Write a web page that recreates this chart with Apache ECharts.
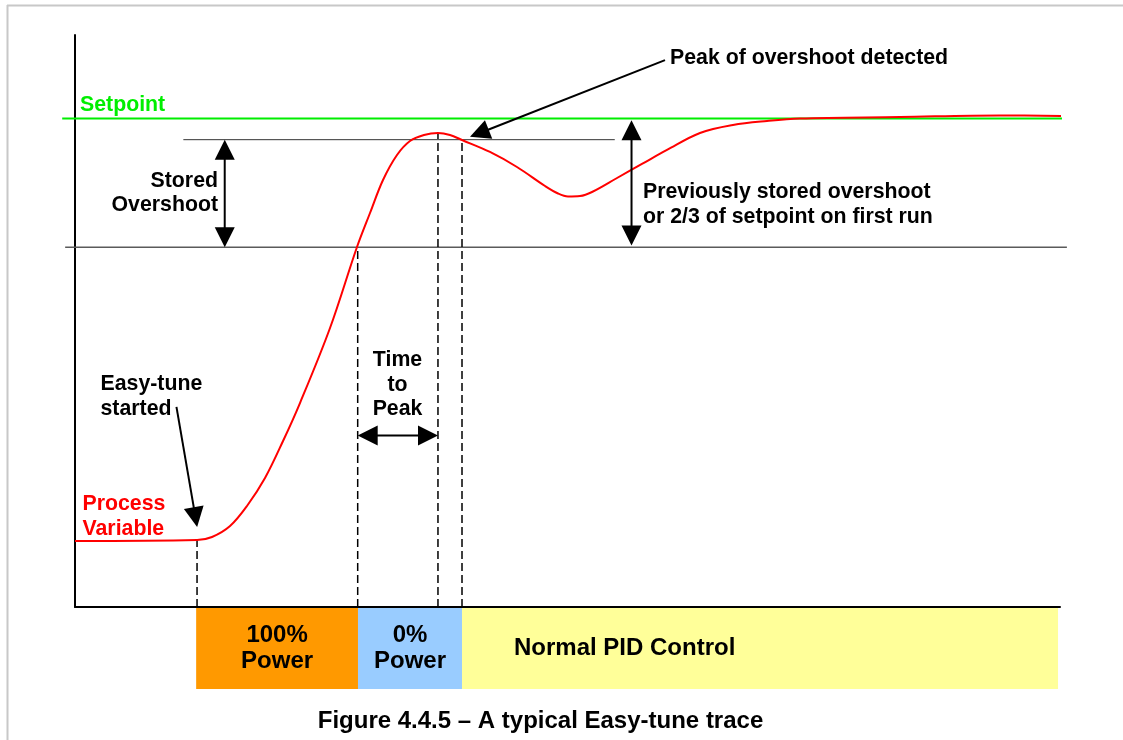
<!DOCTYPE html>
<html>
<head>
<meta charset="utf-8">
<script src="https://cdn.jsdelivr.net/npm/echarts@6/dist/echarts.min.js"></script>
<style>
  html, body { margin: 0; padding: 0; background: #fff; }
  #chart { width: 1123px; height: 740px; }
</style>
</head>
<body>
<div id="chart"></div>
<script>
// ---------------------------------------------------------------------------
// Easy-tune trace
// time: 0..100 across the plot, level: 0..100 up the plot
// ---------------------------------------------------------------------------

// Process variable (red trace)
const pvTime = [0, 12.39, 13.91, 15.74, 17.46, 19.29, 21.12, 22.84, 25.89, 28.63, 29.95, 31.27,
  32.69, 34.01, 35.43, 36.85, 38.07, 39.29, 42.13, 44.87, 47.72, 49.04, 50.05, 51.27, 52.49,
  55.03, 57.56, 60.10, 63.45, 66.80, 70.25, 73.60, 83.76, 93.91, 100.2]
const pvLevel = [11.54, 11.71, 12.24, 14.16, 17.66, 22.55, 29.02, 35.66, 48.78, 62.94, 68.88, 74.65,
  79.02, 81.47, 82.52, 82.87, 82.52, 81.64, 79.55, 76.92, 73.60, 72.29, 71.77, 71.85, 72.55,
  75.00, 77.45, 79.90, 82.87, 84.27, 84.97, 85.40, 85.66, 85.93, 85.84]

// Reference levels
const setpoint = 85.4
const thresholdLevel = 62.9      // setpoint minus stored overshoot
const storedPeakLevel = 81.7     // level where overshoot peak is detected

// Horizontal line extents (time)
const setpointSpan = [-1.3, 100.2]
const thresholdSpan = [-1.0, 100.7]
const storedPeakSpan = [11.0, 54.8]

// Events: tune start, threshold crossing, peak, peak detected
const eventTimes = [12.39, 28.7, 36.85, 39.29]
const eventLevels = [11.71, 62.94, 82.87, 81.64]

// Output phases shown under the time axis
const phaseNames = ['100%\nPower', '0%\nPower', 'Normal PID Control']
const phaseStart = [12.3, 28.73, 39.29]
const phaseEnd = [28.73, 39.29, 99.8]

// Arrows: [fromTime, fromLevel, toTime, toLevel, heads]
const storedOvershootArrow = [15.2, thresholdLevel, 15.2, storedPeakLevel, 2]
const previousOvershootArrow = [56.5, 63.2, 56.5, 85.1, 2]
const timeToPeakArrow = [28.7, 30.0, 36.85, 30.0, 2]
const tuneStartArrow = [10.3, 35.0, 12.4, 14.0, 1]
const peakDetectArrow = [59.9, 95.6, 40.1, 82.2, 1]

// ---------------------------------------------------------------------------
// Styles
// ---------------------------------------------------------------------------
const FONT = '"Liberation Sans", Arial, Helvetica, sans-serif'
const LABEL_SIZE = 21.3
const BIG_SIZE = 24
const PHASE_COLORS = ['#ff9900', '#99ccff', '#ffff99']
const RED = '#ff0000'
const GREEN = '#00ee00'

// straight segments [t1, v1, t2, v2] drawn through the axes, not clipped to the grid
function segments(items, lineStyle, z) {
  return {
    type: 'custom',
    xAxisIndex: 0, yAxisIndex: 0,
    encode: { x: [0, 2], y: [1, 3] },
    data: items,
    silent: true,
    z,
    renderItem(params, api) {
      const a = api.coord([api.value(0), api.value(1)])
      const b = api.coord([api.value(2), api.value(3)])
      return {
        type: 'line',
        shape: { x1: a[0], y1: a[1], x2: b[0], y2: b[1] },
        style: Object.assign({ fill: null }, lineStyle),
      }
    },
  }
}

function text(str, x, y, opt = {}) {
  return {
    type: 'text',
    z: 100,
    style: {
      text: str,
      x, y,
      font: `bold ${opt.size || LABEL_SIZE}px ${FONT}`,
      fill: opt.color || '#000',
      align: opt.align || 'left',
      textAlign: opt.align || 'left',
      verticalAlign: 'middle',
      textVerticalAlign: 'middle',
      lineHeight: opt.lh || 24.5,
    },
  }
}

const chart = echarts.init(document.getElementById('chart'), null, { renderer: 'canvas' })

chart.setOption({
  animation: false,
  backgroundColor: '#fff',
  grid: [
    { left: 75, right: 63, top: 35, bottom: 133 },
    { left: 75, right: 63, top: 608, height: 81 },
  ],
  xAxis: [
    {
      type: 'value', min: 0, max: 100, gridIndex: 0,
      axisLine: { show: true, lineStyle: { color: '#000', width: 2 } },
      axisTick: { show: false }, axisLabel: { show: false }, splitLine: { show: false },
    },
    { type: 'value', min: 0, max: 100, gridIndex: 1, show: false },
  ],
  yAxis: [
    {
      type: 'value', min: 0, max: 100, gridIndex: 0,
      axisLine: { show: true, lineStyle: { color: '#000', width: 2 } },
      axisTick: { show: false }, axisLabel: { show: false }, splitLine: { show: false },
    },
    { type: 'value', min: 0, max: 1, gridIndex: 1, show: false },
  ],
  series: [
    segments([[thresholdSpan[0], thresholdLevel, thresholdSpan[1], thresholdLevel]],
      { stroke: '#5a5a5a', lineWidth: 1.5 }, 2),
    segments([[storedPeakSpan[0], storedPeakLevel, storedPeakSpan[1], storedPeakLevel]],
      { stroke: '#333', lineWidth: 1 }, 2),
    segments([[setpointSpan[0], setpoint, setpointSpan[1], setpoint]],
      { stroke: GREEN, lineWidth: 2 }, 2),
    segments(eventTimes.map((t, i) => [t, 0, t, eventLevels[i]]),
      { stroke: '#000', lineWidth: 1.5, lineDash: [8, 4] }, 3),
    {
      type: 'line',
      data: pvTime.map((t, i) => [t, pvLevel[i]]),
      symbol: 'none',
      smooth: 0.35,
      clip: false,
      lineStyle: { color: RED, width: 2 },
      z: 5,
    },
    {
      type: 'custom',
      xAxisIndex: 0, yAxisIndex: 0,
      encode: { x: [0, 2], y: [1, 3] },
      data: [storedOvershootArrow, previousOvershootArrow, timeToPeakArrow, tuneStartArrow, peakDetectArrow],
      z: 10,
      renderItem(params, api) {
        const p1 = api.coord([api.value(0), api.value(1)])
        const p2 = api.coord([api.value(2), api.value(3)])
        const heads = api.value(4)
        const dx = p2[0] - p1[0], dy = p2[1] - p1[1]
        const len = Math.hypot(dx, dy)
        const ux = dx / len, uy = dy / len
        const nx = -uy, ny = ux
        const L = 20, W = 10
        const head = (tip, sx, sy) => ({
          type: 'polygon',
          shape: { points: [
            tip,
            [tip[0] - sx * L + nx * W, tip[1] - sy * L + ny * W],
            [tip[0] - sx * L - nx * W, tip[1] - sy * L - ny * W],
          ] },
          style: { fill: '#000' },
        })
        const a = heads === 2 ? [p1[0] + ux * L * 0.8, p1[1] + uy * L * 0.8] : p1
        const b = [p2[0] - ux * L * 0.8, p2[1] - uy * L * 0.8]
        const children = [
          { type: 'line', shape: { x1: a[0], y1: a[1], x2: b[0], y2: b[1] }, style: { stroke: '#000', lineWidth: 2 } },
          head(p2, ux, uy),
        ]
        if (heads === 2) children.push(head(p1, -ux, -uy))
        return { type: 'group', children }
      },
    },
    {
      type: 'custom',
      xAxisIndex: 1, yAxisIndex: 1,
      encode: { x: [0, 1] },
      data: phaseNames.map((n, i) => [phaseStart[i], phaseEnd[i], i]),
      renderItem(params, api) {
        const i = api.value(2)
        const a = api.coord([api.value(0), 1])
        const b = api.coord([api.value(1), 0])
        return {
          type: 'rect',
          shape: { x: a[0], y: a[1], width: b[0] - a[0], height: b[1] - a[1] },
          style: { fill: PHASE_COLORS[i] },
          textContent: {
            style: {
              text: phaseNames[i],
              font: `bold ${BIG_SIZE}px ${FONT}`,
              fill: '#000',
              align: i === 2 ? 'left' : 'center',
              verticalAlign: 'middle',
              lineHeight: 26.5,
            },
          },
          textConfig: i === 2 ? { position: [52, '50%'] } : { position: 'inside' },
        }
      },
    },
  ],
  graphic: [
    // page frame
    { type: 'line', shape: { x1: 7, y1: 5.5, x2: 1123, y2: 5.5 }, style: { stroke: '#c8c8c8', lineWidth: 2 } },
    { type: 'line', shape: { x1: 7.5, y1: 5, x2: 7.5, y2: 740 }, style: { stroke: '#c8c8c8', lineWidth: 2 } },
    text('Setpoint', 80, 105.5, { color: GREEN }),
    text('Peak of overshoot detected', 670, 58.5),
    text('Stored\nOvershoot', 218, 193.5, { align: 'right', lh: 24 }),
    text('Previously stored overshoot\nor 2/3 of setpoint on first run', 643, 205, { lh: 25 }),
    text('Easy-tune\nstarted', 100.5, 396.5),
    text('Time\nto\nPeak', 397.5, 385, { align: 'center' }),
    text('Process\nVariable', 82.5, 517, { color: RED, lh: 25 }),
    text('Figure 4.4.5 – A typical Easy-tune trace', 540.5, 721.5, { align: 'center', size: BIG_SIZE }),
  ],
})
</script>
</body>
</html>
